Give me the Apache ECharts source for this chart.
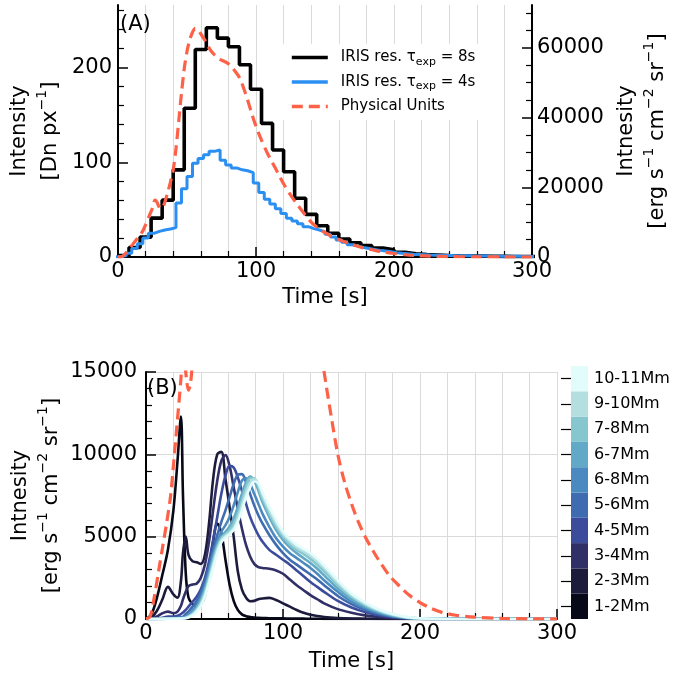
<!DOCTYPE html>
<html><head><meta charset="utf-8">
<script src="https://cdn.jsdelivr.net/npm/echarts@6/dist/echarts.min.js"></script>
<style>html,body{margin:0;padding:0;background:#fff}#c{width:676px;height:677px}</style>
</head><body><div id="c"></div>
<script>
const FONT = 'DejaVu Sans';

// ---------- Panel A data ----------
// IRIS resampled, 8 s exposure: one value per 8 s bin starting at t = 0
const iris8Width = 8;
const iris8Start = 0;
const iris8 = [1.5,10,21,41,60,92,157,219,242,231,222,203,177,141,113,90,62,45,33,25,19,15,12,9.5,7.5,5,3.5,2.5,2,1.5,1.2,1,1,0.8,0.7,0.6,0.5,0.5];
// IRIS resampled, 4 s exposure: one value per 4 s bin starting at t = -2
const iris4Width = 4;
const iris4Start = -2;
const iris4 = [0.3,1.5,4,9,14,20,25,27,28.5,29.5,31,57,72,85,99,104,108,111.5,113,102,97,94,92,91,89,78,68,61,56,51,46,41,38,35,32,30,28.5,26.5,24,21,18,15.5,13,11.5,10,9,8,7,6.3,5.6,4.6,4,3.5,3,2.7,2.4,2.1,1.9,1.7,1.6,1.5,1.4,1.3,1.2,1.1,1,1,0.9,0.9,0.8,0.8,0.7,0.7,0.6,0.6,0.5];
// Physical units curve
const physT = [0,3,6,9,12,15,18,20,22,24,25.5,26.8,28,29.5,31,32.5,34,36,38,40,42,44,46,48,50,52,54,56,58,60,62,64,66,68,70,73,76,79,82,85,88,91,94,97,100,104,108,112,116,120,125,130,135,140,145,150,155,160,166,172,178,185,192,200,208,216,226,240,260,280,300];
const physV = [0,150,1300,2800,4300,5800,7500,9300,11200,13100,14600,16300,15900,14600,13900,14300,15800,18500,21500,25000,31000,39000,47000,54000,59000,62300,64500,65600,65200,64000,62800,61500,60000,58800,58000,57000,56300,55700,54700,53200,51500,48500,45000,41000,37500,33500,30000,27000,24000,21000,17800,15000,12400,10000,8300,7000,5900,5000,4100,3300,2600,2000,1450,1000,650,400,230,110,40,10,0];

// ---------- Panel B data ----------
const heightT = [0,4,8,12,16,20,23,25.5,27,29,31,34,37,40,43,46,49,52,55,58,61,64,67,70,73,76,79,82,85,90,95,100,105,110,115,120,125,130,140,150,160,170,180,190,200,215,230,260,300];
const heightLabels = ['1-2Mm','2-3Mm','3-4Mm','4-5Mm','5-6Mm','6-8Mm','6-7Mm','7-8Mm','9-10Mm','10-11Mm'];
const heightColors = ['#070818','#1c1b3c','#302f66','#3c4c9c','#3f6bb0','#4a8ac0','#62a9c8','#85c6cf','#b3dfe0','#e2fbfb'];
const h1 = [0,300,1300,2700,4200,6600,9600,12300,7500,2800,1300,900,800,900,1400,2900,4700,5800,5200,3600,2100,1100,550,280,170,120,90,70,60,50,40,35,30,25,20,15,12,10,8,5,3,2,1,0,0,0,0,0,0];
const h2 = [0,100,500,1200,1950,1500,1300,2300,4000,5000,3900,3500,3450,3350,3900,5800,8500,10000,10150,8500,6800,5000,2900,1800,1300,1080,1100,1200,1250,1280,1150,950,750,550,380,260,180,120,60,30,15,8,4,2,0,0,0,0,0];
const h3 = [0,30,150,350,450,350,450,800,1200,1650,2000,2100,2150,2500,3300,4700,6600,8400,9600,9950,9300,8000,6700,5500,4500,3800,3350,3150,3100,3050,2950,2750,2400,2050,1750,1450,1200,950,600,380,220,120,60,30,10,0,0,0,0];
const h4 = [0,0,20,80,150,150,200,300,400,550,750,1050,1350,1800,2500,3500,4800,6200,7600,8700,9300,9200,8600,7800,7000,6200,5600,5100,4700,4200,3900,3600,3300,2950,2600,2250,1950,1650,1100,700,420,230,110,50,20,0,0,0,0];
const h5 = [0,0,0,20,50,60,80,100,130,300,450,750,1100,1600,2300,3200,4200,5100,5900,6600,7400,8200,8750,8800,8300,7600,6900,6300,5800,5100,4500,4000,3600,3300,3000,2700,2400,2050,1400,900,550,300,150,60,20,0,0,0,0];
const h6 = [0,0,0,10,30,40,50,60,80,150,250,500,850,1300,2000,2900,3900,4700,5300,5700,6200,6900,7700,8400,8550,8200,7600,7000,6400,5600,4900,4400,4000,3700,3400,3100,2750,2350,1650,1050,650,360,170,70,25,0,0,0,0];
const h7 = [0,0,0,5,20,30,40,50,60,100,180,380,700,1150,1800,2700,3700,4500,5000,5300,5600,6100,6800,7600,8300,8650,8400,7800,7100,6200,5400,4800,4350,4000,3700,3400,3050,2650,1850,1200,750,420,200,80,30,0,0,0,0];
const h8 = [0,0,0,5,15,20,30,40,50,80,150,320,600,1000,1650,2500,3500,4350,4900,5150,5400,5800,6400,7200,8000,8550,8550,8000,7300,6400,5600,5000,4550,4200,3950,3650,3300,2900,2050,1350,850,480,240,100,35,0,0,0,0];
const h9 = [0,0,0,5,10,15,20,30,40,60,120,270,520,900,1500,2350,3300,4200,4800,5050,5250,5550,6100,6900,7700,8300,8500,8200,7500,6600,5800,5150,4700,4350,4100,3850,3500,3100,2200,1450,920,530,270,110,40,5,0,0,0];
const h10 = [0,0,0,5,10,10,15,20,30,40,90,220,450,800,1350,2200,3100,4000,4650,4950,5150,5400,5900,6600,7400,8000,8350,8250,7700,6800,6000,5300,4850,4500,4250,4000,3650,3250,2350,1550,1000,580,300,130,50,10,0,0,0];
const heightSeries = [h1,h2,h3,h4,h5,h6,h7,h8,h9,h10];

// ---------- Tick values ----------
const yMajorA = [0,100,200];
const yMinorA = [20,40,60,80,120,140,160,180,220,240,260];
const yMajorAR = [0,20000,40000,60000];
const yMinorAR = [5000,10000,15000,25000,30000,35000,45000,50000,55000,65000,70000];

// ---------- helpers ----------
function stepData(vals, start, width) {
  const d = vals.map((v, i) => [start + i * width, v]);
  d.push([start + vals.length * width, vals[vals.length - 1]]);
  return d;
}
const physData = physT.map((t, i) => [t, physV[i]]);
const plain = v => String(v);

const BLACK = '#000';
const GRID = '#dadada';
const RED = '#fd6147';
const BLUE = '#2b8ff2';
const txt = {fontFamily: FONT, color: BLACK};
const nameRich = {
  a: {fontFamily: FONT, fontSize: 21, color: BLACK, lineHeight: 31},
  s: {fontFamily: FONT, fontSize: 14, color: BLACK, lineHeight: 14, verticalAlign: 'top'}
};
const unitName = '{a|Intnesity}\n{a|[erg s}{s|−1}{a| cm}{s|−2}{a| sr}{s|−1}{a|]}';

function xAxisCfg(grid, gap) {
  return {
    gridIndex: grid, type: 'value', min: 0, max: 300, interval: 100,
    axisLine: {show: true, onZero: false, lineStyle: {color: BLACK, width: 2}},
    axisTick: {show: true, inside: true, length: 10, lineStyle: {color: BLACK, width: 1.5}},
    minorTick: {show: true, splitNumber: 5, length: 6, lineStyle: {color: BLACK, width: 1.2}},
    splitLine: {show: true, lineStyle: {color: GRID, width: 1}},
    minorSplitLine: {show: true, lineStyle: {color: GRID, width: 1}},
    axisLabel: Object.assign({fontSize: 21, margin: 4, formatter: plain}, txt),
    name: 'Time [s]', nameLocation: 'middle', nameGap: gap, nameMoveOverlap: false,
    nameTextStyle: Object.assign({fontSize: 21}, txt)
  };
}

const series = [
  {name: 'IRIS res. 8s', type: 'line', xAxisIndex: 0, yAxisIndex: 0, step: 'end', symbol: 'none',
   data: stepData(iris8, iris8Start, iris8Width), lineStyle: {color: BLACK, width: 3.6}, itemStyle: {color: BLACK}, z: 3},
  {name: 'IRIS res. 4s', type: 'line', xAxisIndex: 0, yAxisIndex: 0, step: 'end', symbol: 'none',
   data: stepData(iris4, iris4Start, iris4Width), lineStyle: {color: BLUE, width: 3}, itemStyle: {color: BLUE}, z: 3},
  {name: 'Physical Units', type: 'line', xAxisIndex: 0, yAxisIndex: 1, symbol: 'none', smooth: 0.3,
   data: physData, lineStyle: {color: RED, width: 3.2, type: [11, 6]}, itemStyle: {color: RED}, z: 4}
];
heightSeries.forEach((vals, k) => {
  series.push({name: heightLabels[k], type: 'line', xAxisIndex: 1, yAxisIndex: 4, symbol: 'none',
    smooth: 0.35, data: heightT.map((t, i) => [t, vals[i]]),
    lineStyle: {color: heightColors[k], width: 2.6}, itemStyle: {color: heightColors[k]}, z: 3});
});
series.push({name: 'Physical Units', type: 'line', xAxisIndex: 1, yAxisIndex: 4, symbol: 'none', smooth: 0.3,
  data: physData, lineStyle: {color: RED, width: 3.2, type: [11, 6]}, itemStyle: {color: RED}, z: 5});
series.push({name: 'colorbar', type: 'bar', xAxisIndex: 2, yAxisIndex: 5, silent: true,
  barWidth: '100%', barCategoryGap: '0%',
  data: heightColors.map(c => ({value: 1, itemStyle: {color: c}}))});

const legendRich = {
  g: {width: 8},
  a: {fontFamily: FONT, fontSize: 15, color: BLACK, lineHeight: 20},
  sub: {fontFamily: FONT, fontSize: 11, color: BLACK, lineHeight: 11, verticalAlign: 'bottom'}
};

const option = {
  animation: false,
  backgroundColor: '#fff',
  title: [
    {text: '(A)', left: 120, top: 14, padding: 0, textStyle: Object.assign({fontSize: 21, fontWeight: 'normal'}, txt)},
    {text: '(B)', left: 147, top: 378, padding: 0, textStyle: Object.assign({fontSize: 21, fontWeight: 'normal'}, txt)}
  ],
  legend: {
    data: [
      {name: 'IRIS res. 8s', lineStyle: {width: 3.6, color: BLACK}},
      {name: 'IRIS res. 4s', lineStyle: {width: 3.6, color: BLUE}},
      {name: 'Physical Units', lineStyle: {width: 3.4, color: RED, type: [11, 6]}}
    ],
    orient: 'vertical', left: 283, top: 44, padding: [6, 12, 6, 7],
    backgroundColor: '#fff', itemWidth: 36, itemHeight: 14, itemGap: 7,
    selectedMode: false,
    itemStyle: {opacity: 0},
    textStyle: {rich: legendRich},
    formatter: function (n) {
      if (n === 'IRIS res. 8s') return '{g|}{a|IRIS res. τ}{sub|exp}{a| = 8s}';
      if (n === 'IRIS res. 4s') return '{g|}{a|IRIS res. τ}{sub|exp}{a| = 4s}';
      return '{g|}{a|' + n + '}';
    }
  },
  grid: [
    {left: 118, top: 5, width: 414, height: 252, outerBoundsMode: 'none'},
    {left: 146, top: 372, width: 411, height: 247, outerBoundsMode: 'none'},
    {left: 571, top: 366, width: 17, height: 253, outerBoundsMode: 'none'}
  ],
  xAxis: [
    xAxisCfg(0, 30),
    xAxisCfg(1, 32),
    {gridIndex: 2, type: 'value', min: 0, max: 1, show: false}
  ],
  yAxis: [
    {gridIndex: 0, type: 'value', min: 0, max: 266, position: 'left',
     axisLine: {show: true, lineStyle: {color: BLACK, width: 2}},
     axisTick: {show: true, inside: true, length: 10, customValues: yMajorA, lineStyle: {color: BLACK, width: 1.5}},
     axisLabel: Object.assign({fontSize: 21, margin: 6, customValues: yMajorA, formatter: plain}, txt),
     splitLine: {show: false},
     name: '{a|Intensity}\n{a|[Dn px}{s|−1}{a|]}', nameLocation: 'middle', nameRotate: 90, nameGap: 52,
     nameMoveOverlap: false, nameTextStyle: {rich: nameRich}},
    {gridIndex: 0, type: 'value', min: 0, max: 72300, position: 'right',
     axisLine: {show: true, lineStyle: {color: BLACK, width: 2}},
     axisTick: {show: true, inside: true, length: 10, customValues: yMajorAR, lineStyle: {color: BLACK, width: 1.5}},
     axisLabel: Object.assign({fontSize: 21, margin: 5, customValues: yMajorAR, formatter: plain}, txt),
     splitLine: {show: false},
     name: unitName, nameLocation: 'middle', nameRotate: 90, nameGap: 79,
     nameMoveOverlap: false, nameTextStyle: {rich: nameRich}},
    {gridIndex: 0, type: 'value', min: 0, max: 266, position: 'left',
     axisLine: {show: false}, axisLabel: {show: false}, splitLine: {show: false},
     axisTick: {show: true, inside: true, length: 6, customValues: yMinorA, lineStyle: {color: BLACK, width: 1.2}}},
    {gridIndex: 0, type: 'value', min: 0, max: 72300, position: 'right',
     axisLine: {show: false}, axisLabel: {show: false}, splitLine: {show: false},
     axisTick: {show: true, inside: true, length: 6, customValues: yMinorAR, lineStyle: {color: BLACK, width: 1.2}}},
    {gridIndex: 1, type: 'value', min: 0, max: 15000, interval: 5000, position: 'left',
     axisLine: {show: true, lineStyle: {color: BLACK, width: 2}},
     axisTick: {show: true, inside: true, length: 10, lineStyle: {color: BLACK, width: 1.5}},
     minorTick: {show: true, splitNumber: 5, length: 6, lineStyle: {color: BLACK, width: 1.2}},
     axisLabel: Object.assign({fontSize: 21, margin: 9, formatter: plain}, txt),
     splitLine: {show: true, lineStyle: {color: GRID, width: 1}},
     name: unitName, nameLocation: 'middle', nameRotate: 90, nameGap: 79,
     nameMoveOverlap: false, nameTextStyle: {rich: nameRich}},
    {gridIndex: 2, type: 'category', position: 'right', data: heightLabels, z: 10,
     axisLine: {show: false},
     axisTick: {show: true, inside: true, length: 10, alignWithLabel: true, lineStyle: {color: BLACK, width: 1.2}},
     axisLabel: Object.assign({fontSize: 16, margin: 6}, txt),
     splitLine: {show: false}}
  ],
  series: series
};

const chart = echarts.init(document.getElementById('c'));
chart.setOption(option);
</script>
</body></html>
